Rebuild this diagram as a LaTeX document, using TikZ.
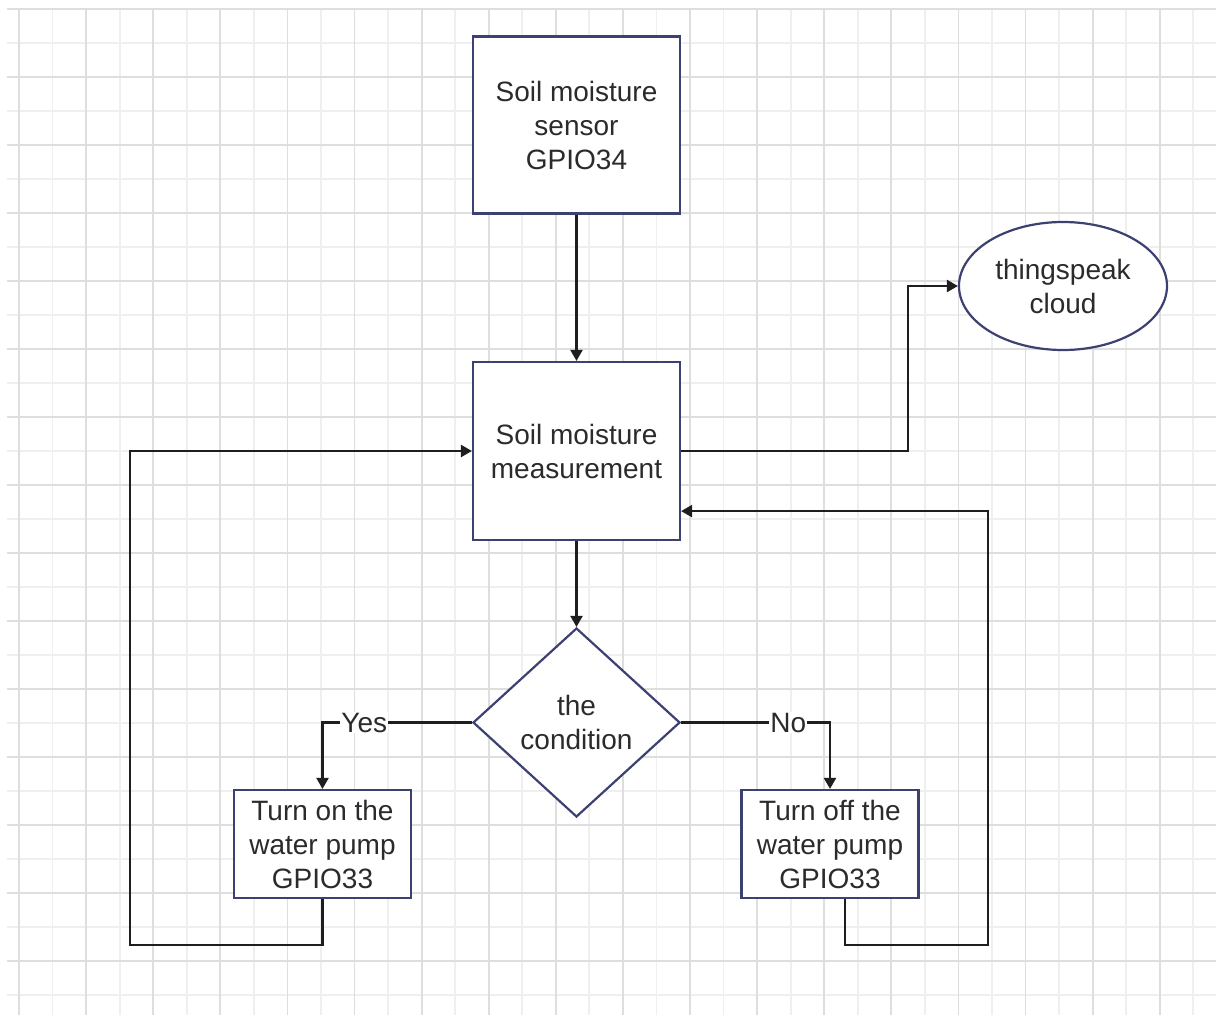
\documentclass[tikz,border=0pt]{standalone}
\usepackage{fontspec}
\setmainfont{Liberation Sans}
\usetikzlibrary{arrows.meta,shapes.geometric}
\definecolor{gridmajor}{HTML}{DEDEDE}
\definecolor{gridminor}{HTML}{EFEFEF}
\definecolor{boxline}{HTML}{3C4172}
\definecolor{ink}{HTML}{2B2B2B}
\definecolor{wire}{HTML}{1E1E1E}
\tikzset{
  txt/.style={font=\fontsize{28}{34}\selectfont, text=ink, align=center},
  box/.style={txt, draw=boxline, line width=2.2pt, fill=white, inner sep=0pt},
  stepbox/.style={box, rectangle, minimum width=#1},
  decision/.style={box, diamond, minimum width=207pt, minimum height=189pt},
  cloudnode/.style={box, ellipse, minimum width=208pt, minimum height=128pt},
  conn/.style={draw=wire, line width=2.2pt, -{Triangle[length=11pt,width=12pt]}},
  lbl/.style={txt, fill=white, inner sep=1pt}
}
\begin{document}
\begin{tikzpicture}[x=1pt,y=-1pt]
  \useasboundingbox (0,0) rectangle (1216,1015);
  \fill[white] (0,0) rectangle (1216,1015);

  % background grid: minor lines first, major lines on top
  \foreach \k in {1,3,...,35} {
    \draw[gridminor, line width=1.8pt] ({19+33.55*\k},9) -- ({19+33.55*\k},1015);
  }
  \foreach \k in {1,3,...,29} {
    \draw[gridminor, line width=1.8pt] (7,{9+34*\k}) -- (1216,{9+34*\k});
  }
  \foreach \k in {0,2,...,34} {
    \draw[gridmajor, line width=1.8pt] ({19+33.55*\k},9) -- ({19+33.55*\k},1015);
  }
  \foreach \k in {0,2,...,28} {
    \draw[gridmajor, line width=1.8pt] (7,{9+34*\k}) -- (1216,{9+34*\k});
  }

  % process nodes
  \node[stepbox=207pt, minimum height=177pt] (sensor) at (576.5,125)
    {Soil moisture\\sensor\\GPIO34};
  \node[stepbox=207pt, minimum height=178pt] (meas) at (576.5,451)
    {Soil moisture\\measurement};
  \node[decision] (cond) at (576.5,722.5) {the\\condition};
  \node[cloudnode] (cloud) at (1063,286) {thingspeak\\cloud};
  \node[stepbox=177pt, minimum height=108pt] (on) at (322.5,844)
    {Turn on the\\water pump\\GPIO33};
  \node[stepbox=177pt, minimum height=108pt] (off) at (830,844)
    {Turn off the\\water pump\\GPIO33};

  % connectors
  \draw[conn] (sensor.south) -- (meas.north);
  \draw[conn] (meas.east) -- (908,451) |- (cloud.west);
  \draw[conn] (meas.south) -- (cond.north);
  \draw[conn] (cond.west) -| node[lbl, pos=0.36] {Yes} (on.north);
  \draw[conn] (cond.east) -| node[lbl, pos=0.36] {No} (off.north);
  \draw[conn] (on.south) |- (130,945) |- (meas.west);
  \draw[conn] ([xshift=15pt]off.south) |- (988,945) |- ([yshift=30pt]meas.south east);
\end{tikzpicture}
\end{document}
